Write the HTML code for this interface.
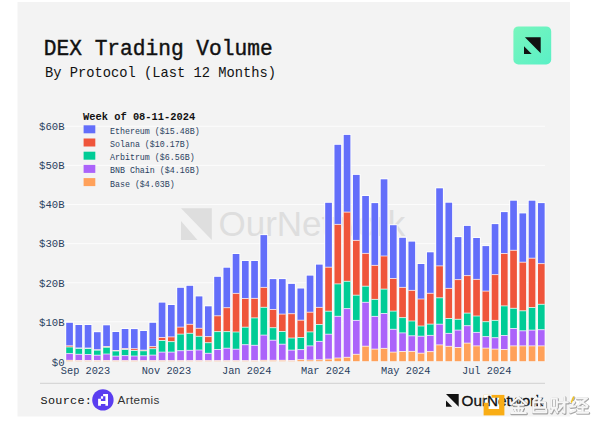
<!DOCTYPE html>
<html><head><meta charset="utf-8">
<style>
html,body{margin:0;padding:0;background:#fff;width:600px;height:427px;overflow:hidden}
svg{display:block}
.mono{font-family:"Liberation Mono",monospace}
.sans{font-family:"Liberation Sans",sans-serif}
</style></head><body>
<svg width="600" height="427" viewBox="0 0 600 427"><defs><linearGradient id="lg" x1="0" y1="0" x2="1" y2="1"><stop offset="0" stop-color="#78f6bd"/><stop offset="1" stop-color="#5af0c6"/></linearGradient><clipPath id="cl"><path d="M488.6 397.7H499.1V409H488.6Z M483.6 394.9H491.5V402.7H483.6Z"/></clipPath></defs>
<rect x="17.5" y="2" width="552.5" height="414.5" fill="#f3f3f3"/>
<!-- title -->
<text class="mono" x="43.8" y="55.2" font-size="21.2" fill="#111" stroke="#111" stroke-width="0.4">DEX Trading Volume</text>
<text class="mono" x="45" y="76.7" font-size="13.75" fill="#111">By Protocol (Last 12 Months)</text>
<!-- top-right logo -->
<rect x="513.4" y="26.4" width="37.8" height="38" rx="5" fill="url(#lg)"/>
<path d="M524.9 37.3H540.7V53.3Z M524 46.3V53.9H531.7Z" fill="#111"/>
<!-- gridlines -->
<g stroke="#fcfcfc" stroke-width="1"><line x1="64" x2="545" y1="321.8" y2="321.8"/><line x1="64" x2="545" y1="282.7" y2="282.7"/><line x1="64" x2="545" y1="243.6" y2="243.6"/><line x1="64" x2="545" y1="204.5" y2="204.5"/><line x1="64" x2="545" y1="165.4" y2="165.4"/><line x1="64" x2="545" y1="126.3" y2="126.3"/></g>
<!-- watermark -->
<g fill="#dedede">
<path d="M181 208.2H211.8V240Z M181 221V240H197.5Z"/>
<text class="sans" x="218.5" y="235.5" font-size="35">OurNetwork</text>
</g>
<!-- bars -->
<g><rect x="65.3" y="321.9" width="8.5" height="39.3" fill="#fff" fill-opacity="0.9"/><rect x="66.2" y="322.8" width="6.7" height="23" fill="#636efa"/><rect x="66.2" y="345.8" width="6.7" height="1.2" fill="#ef553b"/><rect x="66.2" y="347" width="6.7" height="6.6" fill="#00cc96"/><rect x="66.2" y="353.6" width="6.7" height="6.7" fill="#ab63fa"/><rect x="66.2" y="360.3" width="6.7" height="0.9" fill="#ffa15a"/><rect x="74.55" y="324.1" width="8.5" height="37.1" fill="#fff" fill-opacity="0.9"/><rect x="75.45" y="325" width="6.7" height="23" fill="#636efa"/><rect x="75.45" y="348" width="6.7" height="0.3" fill="#ef553b"/><rect x="75.45" y="348.3" width="6.7" height="6" fill="#00cc96"/><rect x="75.45" y="354.3" width="6.7" height="6.2" fill="#ab63fa"/><rect x="75.45" y="360.5" width="6.7" height="0.7" fill="#ffa15a"/><rect x="83.8" y="324.1" width="8.5" height="37.1" fill="#fff" fill-opacity="0.9"/><rect x="84.7" y="325" width="6.7" height="23" fill="#636efa"/><rect x="84.7" y="348" width="6.7" height="0.5" fill="#ef553b"/><rect x="84.7" y="348.5" width="6.7" height="6" fill="#00cc96"/><rect x="84.7" y="354.5" width="6.7" height="6" fill="#ab63fa"/><rect x="84.7" y="360.5" width="6.7" height="0.7" fill="#ffa15a"/><rect x="93.05" y="331.3" width="8.5" height="29.9" fill="#fff" fill-opacity="0.9"/><rect x="93.95" y="332.2" width="6.7" height="17.6" fill="#636efa"/><rect x="93.95" y="349.8" width="6.7" height="0.3" fill="#ef553b"/><rect x="93.95" y="350.1" width="6.7" height="5.1" fill="#00cc96"/><rect x="93.95" y="355.2" width="6.7" height="5.3" fill="#ab63fa"/><rect x="93.95" y="360.5" width="6.7" height="0.7" fill="#ffa15a"/><rect x="102.3" y="324.4" width="8.5" height="36.8" fill="#fff" fill-opacity="0.9"/><rect x="103.2" y="325.3" width="6.7" height="21.2" fill="#636efa"/><rect x="103.2" y="346.5" width="6.7" height="0.8" fill="#ef553b"/><rect x="103.2" y="347.3" width="6.7" height="6.7" fill="#00cc96"/><rect x="103.2" y="354" width="6.7" height="6.5" fill="#ab63fa"/><rect x="103.2" y="360.5" width="6.7" height="0.7" fill="#ffa15a"/><rect x="111.55" y="331.1" width="8.5" height="30.1" fill="#fff" fill-opacity="0.9"/><rect x="112.45" y="332" width="6.7" height="18.5" fill="#636efa"/><rect x="112.45" y="350.5" width="6.7" height="0.5" fill="#ef553b"/><rect x="112.45" y="351" width="6.7" height="5.1" fill="#00cc96"/><rect x="112.45" y="356.1" width="6.7" height="4.5" fill="#ab63fa"/><rect x="112.45" y="360.6" width="6.7" height="0.6" fill="#ffa15a"/><rect x="120.8" y="328.1" width="8.5" height="33.1" fill="#fff" fill-opacity="0.9"/><rect x="121.7" y="329" width="6.7" height="19.5" fill="#636efa"/><rect x="121.7" y="348.5" width="6.7" height="1" fill="#ef553b"/><rect x="121.7" y="349.5" width="6.7" height="6.1" fill="#00cc96"/><rect x="121.7" y="355.6" width="6.7" height="5" fill="#ab63fa"/><rect x="121.7" y="360.6" width="6.7" height="0.6" fill="#ffa15a"/><rect x="130.05" y="328.2" width="8.5" height="33" fill="#fff" fill-opacity="0.9"/><rect x="130.95" y="329.1" width="6.7" height="19.6" fill="#636efa"/><rect x="130.95" y="348.7" width="6.7" height="1.8" fill="#ef553b"/><rect x="130.95" y="350.5" width="6.7" height="5.5" fill="#00cc96"/><rect x="130.95" y="356" width="6.7" height="4.6" fill="#ab63fa"/><rect x="130.95" y="360.6" width="6.7" height="0.6" fill="#ffa15a"/><rect x="139.3" y="330.1" width="8.5" height="31.1" fill="#fff" fill-opacity="0.9"/><rect x="140.2" y="331" width="6.7" height="19.1" fill="#636efa"/><rect x="140.2" y="350.1" width="6.7" height="0.7" fill="#ef553b"/><rect x="140.2" y="350.8" width="6.7" height="5" fill="#00cc96"/><rect x="140.2" y="355.8" width="6.7" height="4.8" fill="#ab63fa"/><rect x="140.2" y="360.6" width="6.7" height="0.6" fill="#ffa15a"/><rect x="148.55" y="321.9" width="8.5" height="39.3" fill="#fff" fill-opacity="0.9"/><rect x="149.45" y="322.8" width="6.7" height="23.8" fill="#636efa"/><rect x="149.45" y="346.6" width="6.7" height="2.1" fill="#ef553b"/><rect x="149.45" y="348.7" width="6.7" height="6.4" fill="#00cc96"/><rect x="149.45" y="355.1" width="6.7" height="5.5" fill="#ab63fa"/><rect x="149.45" y="360.6" width="6.7" height="0.6" fill="#ffa15a"/><rect x="157.8" y="301.7" width="8.5" height="59.5" fill="#fff" fill-opacity="0.9"/><rect x="158.7" y="302.6" width="6.7" height="34.9" fill="#636efa"/><rect x="158.7" y="337.5" width="6.7" height="3" fill="#ef553b"/><rect x="158.7" y="340.5" width="6.7" height="11.6" fill="#00cc96"/><rect x="158.7" y="352.1" width="6.7" height="8.5" fill="#ab63fa"/><rect x="158.7" y="360.6" width="6.7" height="0.6" fill="#ffa15a"/><rect x="167.05" y="304.1" width="8.5" height="57.1" fill="#fff" fill-opacity="0.9"/><rect x="167.95" y="305" width="6.7" height="31.9" fill="#636efa"/><rect x="167.95" y="336.9" width="6.7" height="4.7" fill="#ef553b"/><rect x="167.95" y="341.6" width="6.7" height="10.5" fill="#00cc96"/><rect x="167.95" y="352.1" width="6.7" height="8.5" fill="#ab63fa"/><rect x="167.95" y="360.6" width="6.7" height="0.6" fill="#ffa15a"/><rect x="176.3" y="286.9" width="8.5" height="74.3" fill="#fff" fill-opacity="0.9"/><rect x="177.2" y="287.8" width="6.7" height="39.3" fill="#636efa"/><rect x="177.2" y="327.1" width="6.7" height="7" fill="#ef553b"/><rect x="177.2" y="334.1" width="6.7" height="16.6" fill="#00cc96"/><rect x="177.2" y="350.7" width="6.7" height="9.9" fill="#ab63fa"/><rect x="177.2" y="360.6" width="6.7" height="0.6" fill="#ffa15a"/><rect x="185.55" y="284.9" width="8.5" height="76.3" fill="#fff" fill-opacity="0.9"/><rect x="186.45" y="285.8" width="6.7" height="38.5" fill="#636efa"/><rect x="186.45" y="324.3" width="6.7" height="9" fill="#ef553b"/><rect x="186.45" y="333.3" width="6.7" height="17" fill="#00cc96"/><rect x="186.45" y="350.3" width="6.7" height="10.3" fill="#ab63fa"/><rect x="186.45" y="360.6" width="6.7" height="0.6" fill="#ffa15a"/><rect x="194.8" y="295.5" width="8.5" height="65.7" fill="#fff" fill-opacity="0.9"/><rect x="195.7" y="296.4" width="6.7" height="31.9" fill="#636efa"/><rect x="195.7" y="328.3" width="6.7" height="8" fill="#ef553b"/><rect x="195.7" y="336.3" width="6.7" height="13.7" fill="#00cc96"/><rect x="195.7" y="350" width="6.7" height="10.6" fill="#ab63fa"/><rect x="195.7" y="360.6" width="6.7" height="0.6" fill="#ffa15a"/><rect x="204.05" y="305.4" width="8.5" height="55.8" fill="#fff" fill-opacity="0.9"/><rect x="204.95" y="306.3" width="6.7" height="30.3" fill="#636efa"/><rect x="204.95" y="336.6" width="6.7" height="6.1" fill="#ef553b"/><rect x="204.95" y="342.7" width="6.7" height="10.6" fill="#00cc96"/><rect x="204.95" y="353.3" width="6.7" height="7.3" fill="#ab63fa"/><rect x="204.95" y="360.6" width="6.7" height="0.6" fill="#ffa15a"/><rect x="213.3" y="275.9" width="8.5" height="85.3" fill="#fff" fill-opacity="0.9"/><rect x="214.2" y="276.8" width="6.7" height="39" fill="#636efa"/><rect x="214.2" y="315.8" width="6.7" height="15.8" fill="#ef553b"/><rect x="214.2" y="331.6" width="6.7" height="17.9" fill="#00cc96"/><rect x="214.2" y="349.5" width="6.7" height="11.1" fill="#ab63fa"/><rect x="214.2" y="360.6" width="6.7" height="0.6" fill="#ffa15a"/><rect x="222.55" y="266.8" width="8.5" height="94.4" fill="#fff" fill-opacity="0.9"/><rect x="223.45" y="267.7" width="6.7" height="40" fill="#636efa"/><rect x="223.45" y="307.7" width="6.7" height="23.9" fill="#ef553b"/><rect x="223.45" y="331.6" width="6.7" height="16.6" fill="#00cc96"/><rect x="223.45" y="348.2" width="6.7" height="12.4" fill="#ab63fa"/><rect x="223.45" y="360.6" width="6.7" height="0.6" fill="#ffa15a"/><rect x="231.8" y="253.1" width="8.5" height="108.1" fill="#fff" fill-opacity="0.9"/><rect x="232.7" y="254" width="6.7" height="39.4" fill="#636efa"/><rect x="232.7" y="293.4" width="6.7" height="38.6" fill="#ef553b"/><rect x="232.7" y="332" width="6.7" height="17.2" fill="#00cc96"/><rect x="232.7" y="349.2" width="6.7" height="11.4" fill="#ab63fa"/><rect x="232.7" y="360.6" width="6.7" height="0.6" fill="#ffa15a"/><rect x="241.05" y="260.1" width="8.5" height="101.1" fill="#fff" fill-opacity="0.9"/><rect x="241.95" y="261" width="6.7" height="37.5" fill="#636efa"/><rect x="241.95" y="298.5" width="6.7" height="28.7" fill="#ef553b"/><rect x="241.95" y="327.2" width="6.7" height="17.5" fill="#00cc96"/><rect x="241.95" y="344.7" width="6.7" height="15.9" fill="#ab63fa"/><rect x="241.95" y="360.6" width="6.7" height="0.6" fill="#ffa15a"/><rect x="250.3" y="260.1" width="8.5" height="101.1" fill="#fff" fill-opacity="0.9"/><rect x="251.2" y="261" width="6.7" height="37.4" fill="#636efa"/><rect x="251.2" y="298.4" width="6.7" height="19.5" fill="#ef553b"/><rect x="251.2" y="317.9" width="6.7" height="27.4" fill="#00cc96"/><rect x="251.2" y="345.3" width="6.7" height="15.2" fill="#ab63fa"/><rect x="251.2" y="360.5" width="6.7" height="0.7" fill="#ffa15a"/><rect x="259.55" y="234.2" width="8.5" height="127" fill="#fff" fill-opacity="0.9"/><rect x="260.45" y="235.1" width="6.7" height="52.3" fill="#636efa"/><rect x="260.45" y="287.4" width="6.7" height="19.9" fill="#ef553b"/><rect x="260.45" y="307.3" width="6.7" height="27.8" fill="#00cc96"/><rect x="260.45" y="335.1" width="6.7" height="25.2" fill="#ab63fa"/><rect x="260.45" y="360.3" width="6.7" height="0.9" fill="#ffa15a"/><rect x="268.8" y="278.2" width="8.5" height="83" fill="#fff" fill-opacity="0.9"/><rect x="269.7" y="279.1" width="6.7" height="30.4" fill="#636efa"/><rect x="269.7" y="309.5" width="6.7" height="18.2" fill="#ef553b"/><rect x="269.7" y="327.7" width="6.7" height="12.5" fill="#00cc96"/><rect x="269.7" y="340.2" width="6.7" height="20.1" fill="#ab63fa"/><rect x="269.7" y="360.3" width="6.7" height="0.9" fill="#ffa15a"/><rect x="278.05" y="278.2" width="8.5" height="83" fill="#fff" fill-opacity="0.9"/><rect x="278.95" y="279.1" width="6.7" height="35" fill="#636efa"/><rect x="278.95" y="314.1" width="6.7" height="17.4" fill="#ef553b"/><rect x="278.95" y="331.5" width="6.7" height="12.7" fill="#00cc96"/><rect x="278.95" y="344.2" width="6.7" height="16.1" fill="#ab63fa"/><rect x="278.95" y="360.3" width="6.7" height="0.9" fill="#ffa15a"/><rect x="287.3" y="283" width="8.5" height="78.2" fill="#fff" fill-opacity="0.9"/><rect x="288.2" y="283.9" width="6.7" height="29.8" fill="#636efa"/><rect x="288.2" y="313.7" width="6.7" height="24.3" fill="#ef553b"/><rect x="288.2" y="338" width="6.7" height="12.1" fill="#00cc96"/><rect x="288.2" y="350.1" width="6.7" height="10.4" fill="#ab63fa"/><rect x="288.2" y="360.5" width="6.7" height="0.7" fill="#ffa15a"/><rect x="296.55" y="287.6" width="8.5" height="73.6" fill="#fff" fill-opacity="0.9"/><rect x="297.45" y="288.5" width="6.7" height="31.7" fill="#636efa"/><rect x="297.45" y="320.2" width="6.7" height="17.3" fill="#ef553b"/><rect x="297.45" y="337.5" width="6.7" height="12.1" fill="#00cc96"/><rect x="297.45" y="349.6" width="6.7" height="10.1" fill="#ab63fa"/><rect x="297.45" y="359.7" width="6.7" height="1.5" fill="#ffa15a"/><rect x="305.8" y="274.7" width="8.5" height="86.5" fill="#fff" fill-opacity="0.9"/><rect x="306.7" y="275.6" width="6.7" height="36.6" fill="#636efa"/><rect x="306.7" y="312.2" width="6.7" height="19.7" fill="#ef553b"/><rect x="306.7" y="331.9" width="6.7" height="14" fill="#00cc96"/><rect x="306.7" y="345.9" width="6.7" height="14.1" fill="#ab63fa"/><rect x="306.7" y="360" width="6.7" height="1.2" fill="#ffa15a"/><rect x="315.05" y="263.7" width="8.5" height="97.5" fill="#fff" fill-opacity="0.9"/><rect x="315.95" y="264.6" width="6.7" height="42.8" fill="#636efa"/><rect x="315.95" y="307.4" width="6.7" height="17.1" fill="#ef553b"/><rect x="315.95" y="324.5" width="6.7" height="16.9" fill="#00cc96"/><rect x="315.95" y="341.4" width="6.7" height="18.4" fill="#ab63fa"/><rect x="315.95" y="359.8" width="6.7" height="1.4" fill="#ffa15a"/><rect x="324.3" y="201.9" width="8.5" height="159.3" fill="#fff" fill-opacity="0.9"/><rect x="325.2" y="202.8" width="6.7" height="64.4" fill="#636efa"/><rect x="325.2" y="267.2" width="6.7" height="44" fill="#ef553b"/><rect x="325.2" y="311.2" width="6.7" height="23" fill="#00cc96"/><rect x="325.2" y="334.2" width="6.7" height="24.9" fill="#ab63fa"/><rect x="325.2" y="359.1" width="6.7" height="2.1" fill="#ffa15a"/><rect x="333.55" y="143.9" width="8.5" height="217.3" fill="#fff" fill-opacity="0.9"/><rect x="334.45" y="144.8" width="6.7" height="79.6" fill="#636efa"/><rect x="334.45" y="224.4" width="6.7" height="59.5" fill="#ef553b"/><rect x="334.45" y="283.9" width="6.7" height="32.4" fill="#00cc96"/><rect x="334.45" y="316.3" width="6.7" height="41.7" fill="#ab63fa"/><rect x="334.45" y="358" width="6.7" height="3.2" fill="#ffa15a"/><rect x="342.8" y="134" width="8.5" height="227.2" fill="#fff" fill-opacity="0.9"/><rect x="343.7" y="134.9" width="6.7" height="77.2" fill="#636efa"/><rect x="343.7" y="212.1" width="6.7" height="69.2" fill="#ef553b"/><rect x="343.7" y="281.3" width="6.7" height="27.3" fill="#00cc96"/><rect x="343.7" y="308.6" width="6.7" height="48.7" fill="#ab63fa"/><rect x="343.7" y="357.3" width="6.7" height="3.9" fill="#ffa15a"/><rect x="352.05" y="174" width="8.5" height="187.2" fill="#fff" fill-opacity="0.9"/><rect x="352.95" y="174.9" width="6.7" height="65.5" fill="#636efa"/><rect x="352.95" y="240.4" width="6.7" height="54.8" fill="#ef553b"/><rect x="352.95" y="295.2" width="6.7" height="25.2" fill="#00cc96"/><rect x="352.95" y="320.4" width="6.7" height="33.9" fill="#ab63fa"/><rect x="352.95" y="354.3" width="6.7" height="6.9" fill="#ffa15a"/><rect x="361.3" y="195.1" width="8.5" height="166.1" fill="#fff" fill-opacity="0.9"/><rect x="362.2" y="196" width="6.7" height="57.4" fill="#636efa"/><rect x="362.2" y="253.4" width="6.7" height="32.8" fill="#ef553b"/><rect x="362.2" y="286.2" width="6.7" height="16.1" fill="#00cc96"/><rect x="362.2" y="302.3" width="6.7" height="43.9" fill="#ab63fa"/><rect x="362.2" y="346.2" width="6.7" height="15" fill="#ffa15a"/><rect x="370.55" y="202.2" width="8.5" height="159" fill="#fff" fill-opacity="0.9"/><rect x="371.45" y="203.1" width="6.7" height="62.3" fill="#636efa"/><rect x="371.45" y="265.4" width="6.7" height="34" fill="#ef553b"/><rect x="371.45" y="299.4" width="6.7" height="17" fill="#00cc96"/><rect x="371.45" y="316.4" width="6.7" height="32.7" fill="#ab63fa"/><rect x="371.45" y="349.1" width="6.7" height="12.1" fill="#ffa15a"/><rect x="379.8" y="178.4" width="8.5" height="182.8" fill="#fff" fill-opacity="0.9"/><rect x="380.7" y="179.3" width="6.7" height="76.7" fill="#636efa"/><rect x="380.7" y="256" width="6.7" height="33.1" fill="#ef553b"/><rect x="380.7" y="289.1" width="6.7" height="24.4" fill="#00cc96"/><rect x="380.7" y="313.5" width="6.7" height="34.9" fill="#ab63fa"/><rect x="380.7" y="348.4" width="6.7" height="12.8" fill="#ffa15a"/><rect x="389.05" y="224.3" width="8.5" height="136.9" fill="#fff" fill-opacity="0.9"/><rect x="389.95" y="225.2" width="6.7" height="53.3" fill="#636efa"/><rect x="389.95" y="278.5" width="6.7" height="32.6" fill="#ef553b"/><rect x="389.95" y="311.1" width="6.7" height="18.2" fill="#00cc96"/><rect x="389.95" y="329.3" width="6.7" height="22.8" fill="#ab63fa"/><rect x="389.95" y="352.1" width="6.7" height="9.1" fill="#ffa15a"/><rect x="398.3" y="236.9" width="8.5" height="124.3" fill="#fff" fill-opacity="0.9"/><rect x="399.2" y="237.8" width="6.7" height="49.6" fill="#636efa"/><rect x="399.2" y="287.4" width="6.7" height="30.2" fill="#ef553b"/><rect x="399.2" y="317.6" width="6.7" height="15.3" fill="#00cc96"/><rect x="399.2" y="332.9" width="6.7" height="18.6" fill="#ab63fa"/><rect x="399.2" y="351.5" width="6.7" height="9.7" fill="#ffa15a"/><rect x="407.55" y="240.7" width="8.5" height="120.5" fill="#fff" fill-opacity="0.9"/><rect x="408.45" y="241.6" width="6.7" height="48.8" fill="#636efa"/><rect x="408.45" y="290.4" width="6.7" height="30.6" fill="#ef553b"/><rect x="408.45" y="321" width="6.7" height="14.8" fill="#00cc96"/><rect x="408.45" y="335.8" width="6.7" height="15.6" fill="#ab63fa"/><rect x="408.45" y="351.4" width="6.7" height="9.8" fill="#ffa15a"/><rect x="416.8" y="263.1" width="8.5" height="98.1" fill="#fff" fill-opacity="0.9"/><rect x="417.7" y="264" width="6.7" height="35" fill="#636efa"/><rect x="417.7" y="299" width="6.7" height="27" fill="#ef553b"/><rect x="417.7" y="326" width="6.7" height="10.2" fill="#00cc96"/><rect x="417.7" y="336.2" width="6.7" height="17" fill="#ab63fa"/><rect x="417.7" y="353.2" width="6.7" height="8" fill="#ffa15a"/><rect x="426.05" y="251.4" width="8.5" height="109.8" fill="#fff" fill-opacity="0.9"/><rect x="426.95" y="252.3" width="6.7" height="41" fill="#636efa"/><rect x="426.95" y="293.3" width="6.7" height="30.8" fill="#ef553b"/><rect x="426.95" y="324.1" width="6.7" height="11.3" fill="#00cc96"/><rect x="426.95" y="335.4" width="6.7" height="16.2" fill="#ab63fa"/><rect x="426.95" y="351.6" width="6.7" height="9.6" fill="#ffa15a"/><rect x="435.3" y="187.4" width="8.5" height="173.8" fill="#fff" fill-opacity="0.9"/><rect x="436.2" y="188.3" width="6.7" height="77.6" fill="#636efa"/><rect x="436.2" y="265.9" width="6.7" height="31.9" fill="#ef553b"/><rect x="436.2" y="297.8" width="6.7" height="26.4" fill="#00cc96"/><rect x="436.2" y="324.2" width="6.7" height="20.7" fill="#ab63fa"/><rect x="436.2" y="344.9" width="6.7" height="16.3" fill="#ffa15a"/><rect x="444.55" y="201.8" width="8.5" height="159.4" fill="#fff" fill-opacity="0.9"/><rect x="445.45" y="202.7" width="6.7" height="85.7" fill="#636efa"/><rect x="445.45" y="288.4" width="6.7" height="30.1" fill="#ef553b"/><rect x="445.45" y="318.5" width="6.7" height="14.9" fill="#00cc96"/><rect x="445.45" y="333.4" width="6.7" height="12.9" fill="#ab63fa"/><rect x="445.45" y="346.3" width="6.7" height="14.9" fill="#ffa15a"/><rect x="453.8" y="236.2" width="8.5" height="125" fill="#fff" fill-opacity="0.9"/><rect x="454.7" y="237.1" width="6.7" height="42.5" fill="#636efa"/><rect x="454.7" y="279.6" width="6.7" height="39.7" fill="#ef553b"/><rect x="454.7" y="319.3" width="6.7" height="10.8" fill="#00cc96"/><rect x="454.7" y="330.1" width="6.7" height="17.4" fill="#ab63fa"/><rect x="454.7" y="347.5" width="6.7" height="13.7" fill="#ffa15a"/><rect x="463.05" y="225" width="8.5" height="136.2" fill="#fff" fill-opacity="0.9"/><rect x="463.95" y="225.9" width="6.7" height="49.7" fill="#636efa"/><rect x="463.95" y="275.6" width="6.7" height="37.5" fill="#ef553b"/><rect x="463.95" y="313.1" width="6.7" height="12.6" fill="#00cc96"/><rect x="463.95" y="325.7" width="6.7" height="17.4" fill="#ab63fa"/><rect x="463.95" y="343.1" width="6.7" height="18.1" fill="#ffa15a"/><rect x="472.3" y="237.1" width="8.5" height="124.1" fill="#fff" fill-opacity="0.9"/><rect x="473.2" y="238" width="6.7" height="41.4" fill="#636efa"/><rect x="473.2" y="279.4" width="6.7" height="36.6" fill="#ef553b"/><rect x="473.2" y="316" width="6.7" height="16.4" fill="#00cc96"/><rect x="473.2" y="332.4" width="6.7" height="13.5" fill="#ab63fa"/><rect x="473.2" y="345.9" width="6.7" height="15.3" fill="#ffa15a"/><rect x="481.55" y="245.2" width="8.5" height="116" fill="#fff" fill-opacity="0.9"/><rect x="482.45" y="246.1" width="6.7" height="45" fill="#636efa"/><rect x="482.45" y="291.1" width="6.7" height="30.6" fill="#ef553b"/><rect x="482.45" y="321.7" width="6.7" height="14.9" fill="#00cc96"/><rect x="482.45" y="336.6" width="6.7" height="11.5" fill="#ab63fa"/><rect x="482.45" y="348.1" width="6.7" height="13.1" fill="#ffa15a"/><rect x="490.8" y="223.2" width="8.5" height="138" fill="#fff" fill-opacity="0.9"/><rect x="491.7" y="224.1" width="6.7" height="50.5" fill="#636efa"/><rect x="491.7" y="274.6" width="6.7" height="45.8" fill="#ef553b"/><rect x="491.7" y="320.4" width="6.7" height="17.3" fill="#00cc96"/><rect x="491.7" y="337.7" width="6.7" height="11.4" fill="#ab63fa"/><rect x="491.7" y="349.1" width="6.7" height="12.1" fill="#ffa15a"/><rect x="500.05" y="211.2" width="8.5" height="150" fill="#fff" fill-opacity="0.9"/><rect x="500.95" y="212.1" width="6.7" height="41.4" fill="#636efa"/><rect x="500.95" y="253.5" width="6.7" height="52.4" fill="#ef553b"/><rect x="500.95" y="305.9" width="6.7" height="29.6" fill="#00cc96"/><rect x="500.95" y="335.5" width="6.7" height="14" fill="#ab63fa"/><rect x="500.95" y="349.5" width="6.7" height="11.7" fill="#ffa15a"/><rect x="509.3" y="199.8" width="8.5" height="161.4" fill="#fff" fill-opacity="0.9"/><rect x="510.2" y="200.7" width="6.7" height="49.6" fill="#636efa"/><rect x="510.2" y="250.3" width="6.7" height="58" fill="#ef553b"/><rect x="510.2" y="308.3" width="6.7" height="20.2" fill="#00cc96"/><rect x="510.2" y="328.5" width="6.7" height="17.4" fill="#ab63fa"/><rect x="510.2" y="345.9" width="6.7" height="15.3" fill="#ffa15a"/><rect x="518.55" y="212.5" width="8.5" height="148.7" fill="#fff" fill-opacity="0.9"/><rect x="519.45" y="213.4" width="6.7" height="48.8" fill="#636efa"/><rect x="519.45" y="262.2" width="6.7" height="48.6" fill="#ef553b"/><rect x="519.45" y="310.8" width="6.7" height="20" fill="#00cc96"/><rect x="519.45" y="330.8" width="6.7" height="15.1" fill="#ab63fa"/><rect x="519.45" y="345.9" width="6.7" height="15.3" fill="#ffa15a"/><rect x="527.8" y="199.8" width="8.5" height="161.4" fill="#fff" fill-opacity="0.9"/><rect x="528.7" y="200.7" width="6.7" height="57.5" fill="#636efa"/><rect x="528.7" y="258.2" width="6.7" height="49.3" fill="#ef553b"/><rect x="528.7" y="307.5" width="6.7" height="22.6" fill="#00cc96"/><rect x="528.7" y="330.1" width="6.7" height="15.8" fill="#ab63fa"/><rect x="528.7" y="345.9" width="6.7" height="15.3" fill="#ffa15a"/><rect x="537.05" y="202.2" width="8.5" height="159" fill="#fff" fill-opacity="0.9"/><rect x="537.95" y="203.1" width="6.7" height="60.5" fill="#636efa"/><rect x="537.95" y="263.6" width="6.7" height="40.7" fill="#ef553b"/><rect x="537.95" y="304.3" width="6.7" height="25.4" fill="#00cc96"/><rect x="537.95" y="329.7" width="6.7" height="16.2" fill="#ab63fa"/><rect x="537.95" y="345.9" width="6.7" height="15.3" fill="#ffa15a"/></g>
<path d="M66.2 345.8h6.7 M66.2 347h6.7 M66.2 353.6h6.7 M66.2 360.3h6.7 M75.45 348h6.7 M75.45 348.3h6.7 M75.45 354.3h6.7 M75.45 360.5h6.7 M84.7 348h6.7 M84.7 348.5h6.7 M84.7 354.5h6.7 M84.7 360.5h6.7 M93.95 349.8h6.7 M93.95 350.1h6.7 M93.95 355.2h6.7 M93.95 360.5h6.7 M103.2 346.5h6.7 M103.2 347.3h6.7 M103.2 354h6.7 M103.2 360.5h6.7 M112.45 350.5h6.7 M112.45 351h6.7 M112.45 356.1h6.7 M112.45 360.6h6.7 M121.7 348.5h6.7 M121.7 349.5h6.7 M121.7 355.6h6.7 M121.7 360.6h6.7 M130.95 348.7h6.7 M130.95 350.5h6.7 M130.95 356h6.7 M130.95 360.6h6.7 M140.2 350.1h6.7 M140.2 350.8h6.7 M140.2 355.8h6.7 M140.2 360.6h6.7 M149.45 346.6h6.7 M149.45 348.7h6.7 M149.45 355.1h6.7 M149.45 360.6h6.7 M158.7 337.5h6.7 M158.7 340.5h6.7 M158.7 352.1h6.7 M158.7 360.6h6.7 M167.95 336.9h6.7 M167.95 341.6h6.7 M167.95 352.1h6.7 M167.95 360.6h6.7 M177.2 327.1h6.7 M177.2 334.1h6.7 M177.2 350.7h6.7 M177.2 360.6h6.7 M186.45 324.3h6.7 M186.45 333.3h6.7 M186.45 350.3h6.7 M186.45 360.6h6.7 M195.7 328.3h6.7 M195.7 336.3h6.7 M195.7 350h6.7 M195.7 360.6h6.7 M204.95 336.6h6.7 M204.95 342.7h6.7 M204.95 353.3h6.7 M204.95 360.6h6.7 M214.2 315.8h6.7 M214.2 331.6h6.7 M214.2 349.5h6.7 M214.2 360.6h6.7 M223.45 307.7h6.7 M223.45 331.6h6.7 M223.45 348.2h6.7 M223.45 360.6h6.7 M232.7 293.4h6.7 M232.7 332h6.7 M232.7 349.2h6.7 M232.7 360.6h6.7 M241.95 298.5h6.7 M241.95 327.2h6.7 M241.95 344.7h6.7 M241.95 360.6h6.7 M251.2 298.4h6.7 M251.2 317.9h6.7 M251.2 345.3h6.7 M251.2 360.5h6.7 M260.45 287.4h6.7 M260.45 307.3h6.7 M260.45 335.1h6.7 M260.45 360.3h6.7 M269.7 309.5h6.7 M269.7 327.7h6.7 M269.7 340.2h6.7 M269.7 360.3h6.7 M278.95 314.1h6.7 M278.95 331.5h6.7 M278.95 344.2h6.7 M278.95 360.3h6.7 M288.2 313.7h6.7 M288.2 338h6.7 M288.2 350.1h6.7 M288.2 360.5h6.7 M297.45 320.2h6.7 M297.45 337.5h6.7 M297.45 349.6h6.7 M297.45 359.7h6.7 M306.7 312.2h6.7 M306.7 331.9h6.7 M306.7 345.9h6.7 M306.7 360h6.7 M315.95 307.4h6.7 M315.95 324.5h6.7 M315.95 341.4h6.7 M315.95 359.8h6.7 M325.2 267.2h6.7 M325.2 311.2h6.7 M325.2 334.2h6.7 M325.2 359.1h6.7 M334.45 224.4h6.7 M334.45 283.9h6.7 M334.45 316.3h6.7 M334.45 358h6.7 M343.7 212.1h6.7 M343.7 281.3h6.7 M343.7 308.6h6.7 M343.7 357.3h6.7 M352.95 240.4h6.7 M352.95 295.2h6.7 M352.95 320.4h6.7 M352.95 354.3h6.7 M362.2 253.4h6.7 M362.2 286.2h6.7 M362.2 302.3h6.7 M362.2 346.2h6.7 M371.45 265.4h6.7 M371.45 299.4h6.7 M371.45 316.4h6.7 M371.45 349.1h6.7 M380.7 256h6.7 M380.7 289.1h6.7 M380.7 313.5h6.7 M380.7 348.4h6.7 M389.95 278.5h6.7 M389.95 311.1h6.7 M389.95 329.3h6.7 M389.95 352.1h6.7 M399.2 287.4h6.7 M399.2 317.6h6.7 M399.2 332.9h6.7 M399.2 351.5h6.7 M408.45 290.4h6.7 M408.45 321h6.7 M408.45 335.8h6.7 M408.45 351.4h6.7 M417.7 299h6.7 M417.7 326h6.7 M417.7 336.2h6.7 M417.7 353.2h6.7 M426.95 293.3h6.7 M426.95 324.1h6.7 M426.95 335.4h6.7 M426.95 351.6h6.7 M436.2 265.9h6.7 M436.2 297.8h6.7 M436.2 324.2h6.7 M436.2 344.9h6.7 M445.45 288.4h6.7 M445.45 318.5h6.7 M445.45 333.4h6.7 M445.45 346.3h6.7 M454.7 279.6h6.7 M454.7 319.3h6.7 M454.7 330.1h6.7 M454.7 347.5h6.7 M463.95 275.6h6.7 M463.95 313.1h6.7 M463.95 325.7h6.7 M463.95 343.1h6.7 M473.2 279.4h6.7 M473.2 316h6.7 M473.2 332.4h6.7 M473.2 345.9h6.7 M482.45 291.1h6.7 M482.45 321.7h6.7 M482.45 336.6h6.7 M482.45 348.1h6.7 M491.7 274.6h6.7 M491.7 320.4h6.7 M491.7 337.7h6.7 M491.7 349.1h6.7 M500.95 253.5h6.7 M500.95 305.9h6.7 M500.95 335.5h6.7 M500.95 349.5h6.7 M510.2 250.3h6.7 M510.2 308.3h6.7 M510.2 328.5h6.7 M510.2 345.9h6.7 M519.45 262.2h6.7 M519.45 310.8h6.7 M519.45 330.8h6.7 M519.45 345.9h6.7 M528.7 258.2h6.7 M528.7 307.5h6.7 M528.7 330.1h6.7 M528.7 345.9h6.7 M537.95 263.6h6.7 M537.95 304.3h6.7 M537.95 329.7h6.7 M537.95 345.9h6.7" stroke="#fff" stroke-width="0.8" stroke-opacity="0.85"/>
<!-- y labels -->
<g class="mono" font-size="10.6" fill="#2a3f5f"><text x="64.5" y="325.6" text-anchor="end">$10B</text><text x="64.5" y="286.5" text-anchor="end">$20B</text><text x="64.5" y="247.4" text-anchor="end">$30B</text><text x="64.5" y="208.3" text-anchor="end">$40B</text><text x="64.5" y="169.2" text-anchor="end">$50B</text><text x="64.5" y="130.1" text-anchor="end">$60B</text>
<text x="64.5" y="366.3" text-anchor="end">$0</text>
</g>
<!-- x labels -->
<g class="mono" font-size="10.3" fill="#2a3f5f">
<text x="60.8" y="373.7">Sep 2023</text>
<text x="141.7" y="373.7">Nov 2023</text>
<text x="222" y="373.7">Jan 2024</text>
<text x="301" y="373.7">Mar 2024</text>
<text x="381" y="373.7">May 2024</text>
<text x="462" y="373.7">Jul 2024</text>
</g>
<!-- legend -->
<text class="mono" x="83" y="119.6" font-size="10.4" font-weight="bold" fill="#111">Week of 08-11-2024</text>
<g>
<rect x="83.6" y="125.3" width="11.7" height="8" fill="#636efa"/>
<rect x="83.6" y="138.5" width="11.7" height="8" fill="#ef553b"/>
<rect x="83.6" y="151.7" width="11.7" height="8" fill="#00cc96"/>
<rect x="83.6" y="164.9" width="11.7" height="8" fill="#ab63fa"/>
<rect x="83.6" y="178.1" width="11.7" height="8" fill="#ffa15a"/>
</g>
<g class="mono" font-size="8.3" fill="#2a3f5f">
<text x="110" y="133.7">Ethereum ($15.48B)</text>
<text x="110" y="146.9">Solana ($10.17B)</text>
<text x="110" y="160.1">Arbitrum ($6.56B)</text>
<text x="110" y="173.3">BNB Chain ($4.16B)</text>
<text x="110" y="186.5">Base ($4.03B)</text>
</g>
<!-- footer -->
<line x1="40" x2="545" y1="383.3" y2="383.3" stroke="#d0d0d0" stroke-width="1"/>
<text class="mono" x="40.6" y="404" font-size="11.8" fill="#111" letter-spacing="0.28">Source:</text>
<circle cx="102.9" cy="399.9" r="10.7" fill="#5a3df0"/>
<path d="M103.1 394.1H108V405.7H105.4V404H100.9V405.7H98.1V398.7H100.9V396.3H103.1Z M100.9 398.7H103.1V396.3H105.4V401H100.9Z" fill="#fff" fill-rule="evenodd"/>
<text class="sans" x="117.6" y="403.6" font-size="11.7" fill="#333" letter-spacing="0.35">Artemis</text>
<!-- bottom right logo -->
<path d="M446 394H458.7V406.7Z M446 400.5V406.7H452.2Z" fill="#111"/>
<text class="sans" x="461.5" y="406" font-size="15.3" fill="#111" stroke="#111" stroke-width="0.3">OurNetwork</text>
<!-- watermark jinse -->
<path d="M483.6 394.9H504.4V415.4H483.6Z" fill="#f9ad15"/>
<path d="M483.6 394.9H492V398H488.6V409H499.1V397.7H492V394.9Z" fill="#fff" opacity="0.0"/>
<path d="M483.6 394.9H491.5V397.7H499.1V409H488.6V402.7H483.6Z" fill="#fff"/>
<text class="sans" x="461.5" y="406" font-size="15.3" fill="#111" stroke="#111" stroke-width="0.3" clip-path="url(#cl)">OurNetwork</text>
<g fill="none" stroke-linecap="round" stroke-linejoin="round">
<g stroke="#7a7a7a" stroke-width="3" opacity="0.65" transform="translate(0.6,0.7)"><path d="M518.5 397.5L511 404M518.5 397.5L526 404M513.5 404.8H523.5M514 408.3H523M518.5 404.8V412.8M514.8 409.8L515.8 411.6M522.2 409.8L521.2 411.6M511.2 413H525.8 M536 397.2L533.2 401M535.3 398.6H540.8L538.3 401.5M533.3 402.2H545V407.8H533.3ZM539.1 402.2V407.8M533.3 402.2V412.2H546.2V409.4 M551.2 398.5H556.8V407.8H551.2ZM554 400.5V405.8M553 408.5L551 412.3M555.2 408.5L557.3 412.3M558.2 402.3H567.8M564.4 397V412.8L562.8 411.8M564.2 403.5L558.6 410 M573.3 397.2L570.6 402H574.2L570.6 406.8L575.2 406.2M570.3 412.2L575.3 410.2M577 398.2H587L578.3 405M580.5 401.3L587.5 405.8M578.3 407.3H586.8M582.6 407.3V412.6M577 412.6H588.2"/></g>
<g stroke="#f6f6f6" stroke-width="2.1"><path d="M518.5 397.5L511 404M518.5 397.5L526 404M513.5 404.8H523.5M514 408.3H523M518.5 404.8V412.8M514.8 409.8L515.8 411.6M522.2 409.8L521.2 411.6M511.2 413H525.8 M536 397.2L533.2 401M535.3 398.6H540.8L538.3 401.5M533.3 402.2H545V407.8H533.3ZM539.1 402.2V407.8M533.3 402.2V412.2H546.2V409.4 M551.2 398.5H556.8V407.8H551.2ZM554 400.5V405.8M553 408.5L551 412.3M555.2 408.5L557.3 412.3M558.2 402.3H567.8M564.4 397V412.8L562.8 411.8M564.2 403.5L558.6 410 M573.3 397.2L570.6 402H574.2L570.6 406.8L575.2 406.2M570.3 412.2L575.3 410.2M577 398.2H587L578.3 405M580.5 401.3L587.5 405.8M578.3 407.3H586.8M582.6 407.3V412.6M577 412.6H588.2"/></g>
</g>
<path d="M573.5 397.2L571.5 402" stroke="#f0c020" stroke-width="1.6" stroke-linecap="round"/>
</svg>
</body></html>
